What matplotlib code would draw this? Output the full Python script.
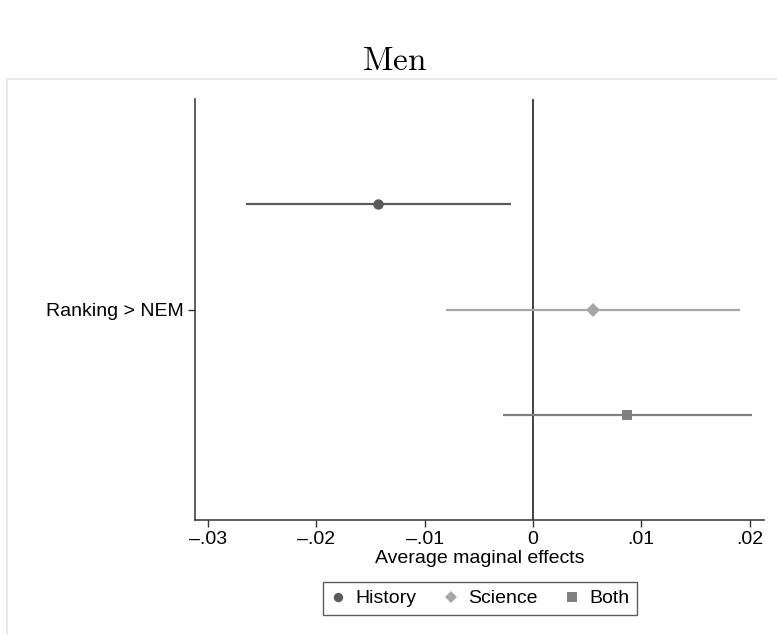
import numpy as np
import matplotlib.pyplot as plt
from matplotlib.patches import Rectangle
from matplotlib.lines import Line2D
from matplotlib.ticker import FixedLocator

plt.rcParams['font.family'] = ['Liberation Sans', 'DejaVu Sans']
plt.rcParams['mathtext.fontset'] = 'cm'

# Оценки средних предельных эффектов и доверительные интервалы
series = ["History", "Science", "Both"]
estimates = [-0.0143, 0.0055, 0.0087]
ci_low = [-0.0265, -0.0080, -0.0028]
ci_high = [-0.0020, 0.0191, 0.0202]
positions = [0.75, 1.0, 1.25]
colors = ["#5a5a5a", "#a6a6a6", "#808080"]
markers = ["o", "D", "s"]
marker_sizes = [7.5, 7, 7.5]

xticks = [-0.03, -0.02, -0.01, 0.0, 0.01, 0.02]
xtick_labels = ["\u2013.03", "\u2013.02", "\u2013.01", "0", ".01", ".02"]
ylabel_text = "Ranking > NEM"

fig = plt.figure(figsize=(7.77, 6.35), dpi=100)
W, H = 777, 635

# Рамка области графика (светло-серая)
fig.patches.append(Rectangle((7 / W, -0.01), 1.0, (635 - 79) / H + 0.01,
                             transform=fig.transFigure, fill=False,
                             edgecolor="#e6e6e6", linewidth=1.2))

ax = fig.add_axes([195 / W, 1 - 520 / H, (764 - 195) / W, (520 - 99) / H])

for x, lo, hi, y, c, m, ms in zip(estimates, ci_low, ci_high, positions,
                                  colors, markers, marker_sizes):
    ax.plot([lo, hi], [y, y], color=c, linewidth=1.6, solid_capstyle="butt", zorder=2)
    ax.plot([x], [y], marker=m, color=c, markersize=ms, markeredgewidth=0, zorder=3)

ax.axvline(0, color="#333333", linewidth=1.3, zorder=1)

ax.set_xlim(-0.0312, 0.02133)
ax.set_ylim(1.5, 0.5)
ax.xaxis.set_major_locator(FixedLocator(xticks))
ax.set_xticklabels(xtick_labels, fontsize=14)
ax.set_yticks([1.0])
ax.set_yticklabels([ylabel_text], fontsize=14)
ax.tick_params(axis="both", length=5, width=1, color="#333333", pad=3)

for side in ["top", "right"]:
    ax.spines[side].set_visible(False)
for side in ["left", "bottom"]:
    ax.spines[side].set_linewidth(1.1)
    ax.spines[side].set_color("#333333")

ax.set_xlabel("Average maginal effects", fontsize=14, labelpad=1.5)

# Легенда
handles = [Line2D([], [], linestyle="none", marker=m, color=c, markersize=ms * 0.9,
                  markeredgewidth=0)
           for m, c, ms in zip(markers, colors, marker_sizes)]
leg = fig.legend(handles, series, loc="center", ncol=3,
                 bbox_to_anchor=(480 / W, 1 - 598.5 / H), fontsize=14,
                 frameon=True, fancybox=False, edgecolor="#333333",
                 handlelength=0.8, handletextpad=0.5, columnspacing=1.35,
                 borderpad=0.4)
leg.get_frame().set_linewidth(1.0)

fig.text(395 / W, 1 - 62 / H, r"$\mathrm{Men}$", ha="center", va="center",
         fontsize=24)

fig.savefig("out.png", dpi=100, facecolor="white")
